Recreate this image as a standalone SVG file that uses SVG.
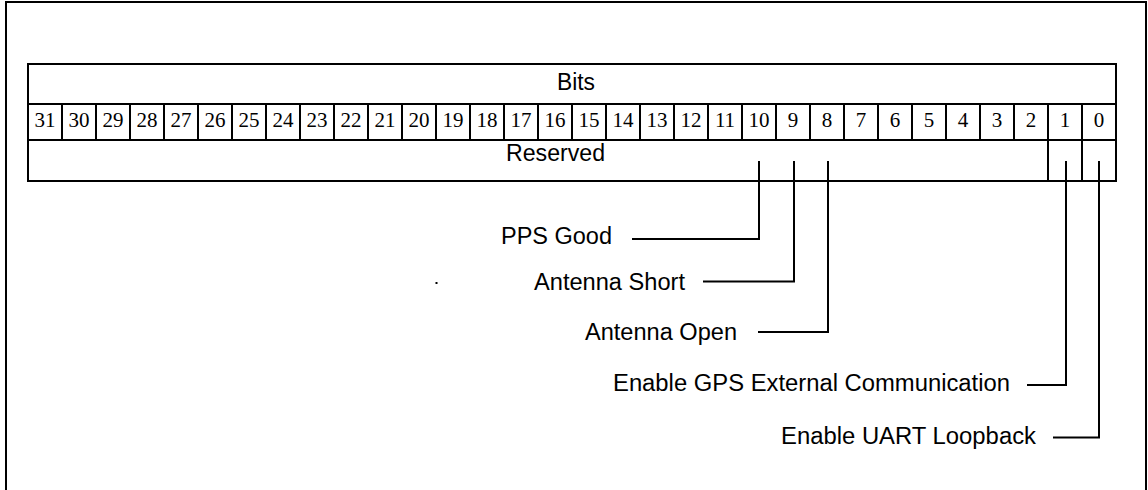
<svg xmlns="http://www.w3.org/2000/svg" width="1148" height="490" viewBox="0 0 1148 490">
<style>
.ln{fill:none;stroke:#000;stroke-width:2}
.lbl{font-family:"Liberation Sans",Arial,sans-serif;font-size:23.5px;fill:#000}
.num{font-family:"Liberation Serif","Times New Roman",serif;font-size:21px;fill:#000;text-anchor:middle}
</style>
<rect width="1148" height="490" fill="#fff"/>
<path class="ln" d="M6,490 V2 H1146 V490"/>
<g id="register">
<rect class="ln" x="28" y="64" width="1088" height="117"/>
<path class="ln" d="M28,104 H1116 M28,140 H1116"/>
<path class="ln" d="M62,104V140 M96,104V140 M130,104V140 M164,104V140 M198,104V140 M232,104V140 M266,104V140 M300,104V140 M334,104V140 M368,104V140 M402,104V140 M436,104V140 M470,104V140 M504,104V140 M538,104V140 M572,104V140 M606,104V140 M640,104V140 M674,104V140 M708,104V140 M742,104V140 M776,104V140 M810,104V140 M844,104V140 M878,104V140 M912,104V140 M946,104V140 M980,104V140 M1014,104V140 M1048,104V181 M1082,104V181"/>
<text class="lbl" x="557" y="90" textLength="38" lengthAdjust="spacingAndGlyphs">Bits</text>
<text class="lbl" x="506" y="161" textLength="99" lengthAdjust="spacingAndGlyphs">Reserved</text>
<g>
<text class="num" x="45" y="127">31</text><text class="num" x="79" y="127">30</text><text class="num" x="113" y="127">29</text><text class="num" x="147" y="127">28</text>
<text class="num" x="181" y="127">27</text><text class="num" x="215" y="127">26</text><text class="num" x="249" y="127">25</text><text class="num" x="283" y="127">24</text>
<text class="num" x="317" y="127">23</text><text class="num" x="351" y="127">22</text><text class="num" x="385" y="127">21</text><text class="num" x="419" y="127">20</text>
<text class="num" x="453" y="127">19</text><text class="num" x="487" y="127">18</text><text class="num" x="521" y="127">17</text><text class="num" x="555" y="127">16</text>
<text class="num" x="589" y="127">15</text><text class="num" x="623" y="127">14</text><text class="num" x="657" y="127">13</text><text class="num" x="691" y="127">12</text>
<text class="num" x="725" y="127">11</text><text class="num" x="759" y="127">10</text><text class="num" x="793" y="127">9</text><text class="num" x="827" y="127">8</text>
<text class="num" x="861" y="127">7</text><text class="num" x="895" y="127">6</text><text class="num" x="929" y="127">5</text><text class="num" x="963" y="127">4</text>
<text class="num" x="997" y="127">3</text><text class="num" x="1031" y="127">2</text><text class="num" x="1065" y="127">1</text><text class="num" x="1099" y="127">0</text>
</g>
</g>
<g id="connectors">
<path class="ln" d="M759,161 V239 H632"/>
<path class="ln" d="M794,161 V281.5 H703"/>
<path class="ln" d="M828,161 V332 H758"/>
<path class="ln" d="M1066,161 V385 H1027"/>
<path class="ln" d="M1099,161 V437.5 H1053"/>
</g>
<g id="label-pps-good"><text class="lbl" x="612" y="243.5" text-anchor="end" textLength="111" lengthAdjust="spacingAndGlyphs">PPS Good</text></g>
<g id="label-antenna-short"><text class="lbl" x="685" y="289.5" text-anchor="end" textLength="151" lengthAdjust="spacingAndGlyphs">Antenna Short</text></g>
<g id="label-antenna-open"><text class="lbl" x="737" y="340" text-anchor="end" textLength="152" lengthAdjust="spacingAndGlyphs">Antenna Open</text></g>
<g id="label-gps-ext"><text class="lbl" x="1010" y="391" text-anchor="end" textLength="397" lengthAdjust="spacingAndGlyphs">Enable GPS External Communication</text></g>
<g id="label-uart-loopback"><text class="lbl" x="1036" y="443.5" text-anchor="end" textLength="255" lengthAdjust="spacingAndGlyphs">Enable UART Loopback</text></g>
<rect x="435.5" y="282" width="2" height="2" fill="#000"/>
</svg>
